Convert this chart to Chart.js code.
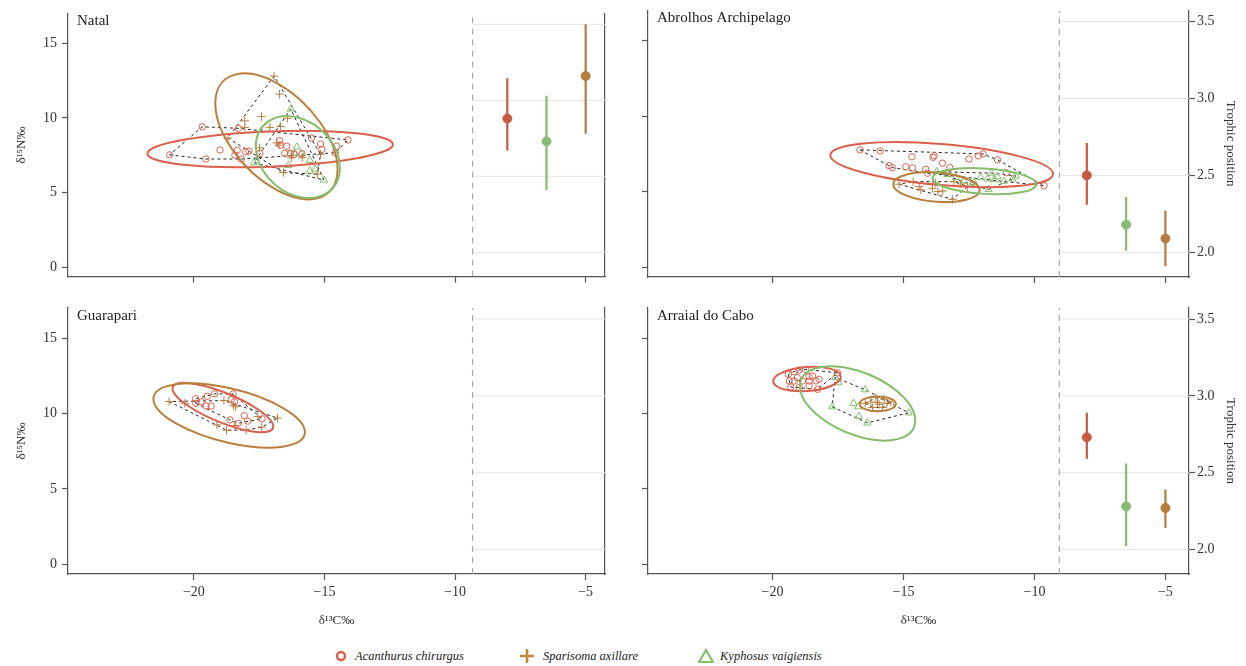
<!DOCTYPE html>
<html>
<head>
<meta charset="utf-8">
<script src="https://cdn.jsdelivr.net/npm/chart.js@4.4.1/dist/chart.umd.min.js"></script>
<style>
  body { margin: 0; background: #fff; }
  #wrap { position: relative; width: 1246px; height: 666px; overflow: hidden; font-family: "Liberation Serif", "Times New Roman", serif; }
  .panel { position: absolute; }
  .leg { position: absolute; top: 647px; height: 18px; font-style: italic; font-size: 12.5px; color: #222; line-height: 18px; }
  .mk { position: absolute; top: 648px; }
</style>
</head>
<body>
<div id="wrap">
  <div class="panel" style="left:0;top:0"><canvas id="c1" width="620" height="290"></canvas></div>
  <div class="panel" style="left:620px;top:0"><canvas id="c2" width="626" height="290"></canvas></div>
  <div class="panel" style="left:0;top:290px"><canvas id="c3" width="620" height="345"></canvas></div>
  <div class="panel" style="left:620px;top:290px"><canvas id="c4" width="626" height="345"></canvas></div>

  <svg class="mk" style="left:335px" width="12" height="16"><circle cx="6" cy="8" r="4" fill="none" stroke="#d9614c" stroke-width="2.4"/></svg>
  <div class="leg" style="left:355px">Acanthurus chirurgus</div>
  <svg class="mk" style="left:520px" width="14" height="16"><path d="M7 1 V15 M0 8 H14" stroke="#c08540" stroke-width="2.6"/></svg>
  <div class="leg" style="left:543px">Sparisoma axillare</div>
  <svg class="mk" style="left:698px" width="16" height="16"><path d="M8 2 L15 14 L1 14 Z" fill="none" stroke="#86c06c" stroke-width="2.2"/></svg>
  <div class="leg" style="left:720px">Kyphosus vaigiensis</div>
</div>

<script>
// Isotopic niches (d13C vs d15N) and trophic position per site

const species = ['Acanthurus chirurgus', 'Sparisoma axillare', 'Kyphosus vaigiensis'];
const sites = ['Natal', 'Abrolhos Archipelago', 'Guarapari', 'Arraial do Cabo'];

const xTicks = [-20, -15, -10, -5];
const yTicks = [0, 5, 10, 15];
const tpTicks = [2.0, 2.5, 3.0, 3.5];

// x position of the trophic position bars (aca, spa, kyp)
const tpX = [-8, -5, -6.5];
// vertical dashed divider per panel
const dividerX = [-9.33, -9.05, -9.33, -9.05];

// ---- Natal ----
const natalAca = [[-20.93,7.52],[-19.68,9.40],[-19.54,7.24],[-19.0,7.85],[-18.43,7.50],[-18.34,7.83],[-18.3,9.3],
  [-18.18,7.24],[-18.02,7.72],[-17.89,7.77],[-17.47,7.62],[-16.72,8.48],[-16.68,8.17],[-16.45,8.10],[-16.53,7.62],
  [-16.30,7.62],[-16.17,7.55],[-15.86,7.59],[-15.50,8.65],[-15.15,8.25],[-15.10,7.88],[-14.53,8.10],[-14.58,7.66],[-14.10,8.52]];
const natalSpa = [[-16.93,12.80],[-16.72,11.59],[-18.05,9.80],[-18.05,9.36],[-17.41,10.09],[-17.09,9.36],[-16.68,9.42],
  [-16.42,9.97],[-18.70,8.65],[-17.49,7.99],[-16.83,8.32],[-16.74,8.17],[-16.57,6.33],[-16.27,7.32],[-15.85,7.32],
  [-15.15,7.55],[-15.27,6.23]];
const natalKyp = [[-16.29,10.60],[-16.06,8.05],[-16.13,7.62],[-15.89,7.59],[-16.32,7.59],[-17.70,6.99],[-15.56,7.15],
  [-16.38,6.82],[-15.56,6.44],[-15.35,6.56],[-15.02,5.83]];
// SEA ellipses: centre x, centre y, semi-axis vector u, conjugate vector v (data units)
const natalEll = [[-17.08,7.91,4.70,0.31,0,1.18],[-16.84,8.76,2.34,-2.21,0,3.59],[-16.02,7.37,1.61,-0.71,0,2.65]];
// trophic position: mean, low, high
const natalTP = [[2.88,2.67,3.145],[3.16,2.78,3.50],[2.73,2.41,3.03]];

// ---- Abrolhos ----
const abrAca = [[-16.66,7.77],[-15.89,7.70],[-15.55,6.73],[-15.42,6.60],[-14.91,6.66],[-14.68,7.32],[-14.65,6.58],
  [-14.15,6.49],[-14.08,6.23],[-13.87,7.28],[-13.83,7.39],[-13.51,6.89],[-13.23,6.60],[-12.50,7.17],[-12.14,7.37],
  [-11.96,7.50],[-11.41,7.11],[-11.07,6.26],[-9.63,5.40]];
const abrSpa = [[-15.17,5.50],[-14.63,5.67],[-14.40,5.34],[-14.34,5.12],[-13.89,5.23],[-13.68,5.01],[-13.50,5.05],
  [-13.13,4.50],[-13.07,5.67],[-12.81,5.52],[-12.56,5.34],[-13.77,5.58]];
const abrKyp = [[-13.73,6.33],[-13.32,6.15],[-13.0,5.95],[-12.69,5.74],[-12.31,5.62],[-12.05,5.95],[-11.79,5.85],
  [-11.64,6.23],[-11.54,5.80],[-11.41,6.00],[-11.16,5.70],[-10.84,5.85],[-10.71,6.05],[-11.75,5.15],[-12.4,5.45]];
const abrEll = [[-13.54,6.80,4.25,-0.62,0,1.36],[-13.74,5.31,1.65,-0.19,0,0.97],[-11.91,5.70,1.98,-0.20,0,0.84]];
const abrTP = [[2.50,2.31,2.71],[2.09,1.91,2.27],[2.18,2.01,2.36]];

// ---- Guarapari ----
const guaAca = [[-19.93,10.98],[-19.93,10.68],[-19.72,10.78],[-19.49,11.14],[-19.21,11.31],[-19.53,10.50],[-19.34,10.50],
  [-18.57,10.94],[-18.45,10.78],[-18.5,11.3],[-18.07,9.86],[-18.62,9.58],[-18.30,9.36],[-17.94,9.50],[-17.39,9.65]];
const guaSpa = [[-20.95,10.80],[-20.35,10.68],[-18.85,10.86],[-18.48,10.55],[-18.40,10.45],[-19.12,9.25],[-18.75,8.90],
  [-18.43,9.21],[-18.00,8.90],[-17.55,9.80],[-17.40,9.10],[-16.80,9.70]];
const guaKyp = [];
const guaEll = [[-18.89,10.40,1.93,-1.26,0,1.05],[-18.65,9.87,2.90,-1.10,0,1.82],null];
const guaTP = [null, null, null];

// ---- Arraial do Cabo ----
const arrAca = [[-19.39,12.60],[-19.17,12.78],[-18.98,12.89],[-18.73,12.93],[-18.60,12.45],[-18.47,12.49],[-19.05,12.38],
  [-19.17,12.16],[-19.36,12.16],[-18.85,12.16],[-18.60,12.16],[-18.34,12.16],[-18.22,12.27],[-19.30,11.76],[-18.98,11.72],
  [-18.60,11.83],[-18.28,11.61],[-17.52,12.70]];
const arrSpa = [[-16.46,10.68],[-16.24,10.77],[-16.05,11.06],[-15.93,10.62],[-15.74,10.95],[-15.63,10.68],[-15.48,10.77],
  [-15.80,10.40],[-16.18,10.40],[-15.99,10.73]];
const arrKyp = [[-17.61,12.40],[-17.48,12.05],[-17.72,10.45],[-16.46,11.58],[-16.91,10.68],[-16.72,10.45],[-16.70,9.82],
  [-16.38,9.38],[-14.80,10.05]];
const arrEll = [[-18.68,12.29,1.29,0.15,0,0.80],[-15.98,10.64,0.69,0,0,0.49],[-16.75,10.67,2.20,-1.14,0,2.18]];
const arrTP = [[2.73,2.59,2.89],[2.27,2.14,2.39],[2.28,2.02,2.56]];

// styles
const ptColor = ['#d9614c', '#b97f3c', '#85bd6b'];
const tpColor = ['#c65a43', '#b57c40', '#8abb74'];
const ptStyle = ['circle', 'cross', 'triangle'];
const ptRadius = [3.2, 4.2, 4.2];
const axisColor = '#555';

Chart.defaults.font.family = '"Liberation Serif", "Times New Roman", serif';
Chart.defaults.color = '#333';

function convexHull(points) {
  if (points.length < 3) return [];
  const p = points.slice().sort((a, b) => a[0] - b[0] || a[1] - b[1]);
  const cross = (o, a, b) => (a[0] - o[0]) * (b[1] - o[1]) - (a[1] - o[1]) * (b[0] - o[0]);
  const lower = [], upper = [];
  for (const pt of p) {
    while (lower.length >= 2 && cross(lower[lower.length - 2], lower[lower.length - 1], pt) <= 0) lower.pop();
    lower.push(pt);
  }
  for (let i = p.length - 1; i >= 0; i--) {
    const pt = p[i];
    while (upper.length >= 2 && cross(upper[upper.length - 2], upper[upper.length - 1], pt) <= 0) upper.pop();
    upper.push(pt);
  }
  upper.pop(); lower.pop();
  const h = lower.concat(upper);
  h.push(h[0]);
  return h;
}

const toXY = arr => arr.map(p => ({ x: p[0], y: p[1] }));
const minus = v => (v < 0 ? '\u2212' : '') + Math.abs(v);

function makePanel(id, idx, pts, ells, tps, leftCol, bottomRow) {
  const xMin = leftCol ? -24.82 : -24.75;
  const xMax = leftCol ? -4.26 : -4.10;
  const yMin = -0.64, yMax = 17.0;
  const tpMin = 1.84, tpMax = 3.572;
  const div = dividerX[idx];
  const datasets = [];

  // light grid on the trophic position side
  tpTicks.forEach(v => datasets.push({
    data: [{ x: div, y: v }, { x: xMax, y: v }], yAxisID: 'tp', showLine: true,
    borderColor: '#e6e6e6', borderWidth: 1, pointRadius: 0, order: 9
  }));
  // dashed divider
  datasets.push({
    data: [{ x: div, y: yMin }, { x: div, y: yMax }], yAxisID: 'y', showLine: true,
    borderColor: '#a9a9a9', borderWidth: 1.2, borderDash: [6, 5], pointRadius: 0, order: 8
  });
  // convex hulls
  pts.forEach(s => {
    const h = convexHull(s);
    if (!h.length) return;
    datasets.push({
      data: toXY(h), yAxisID: 'y', showLine: true, borderColor: '#222', borderWidth: 1,
      borderDash: [3, 3], pointRadius: 0, order: 4
    });
  });
  // scatter points
  pts.forEach((s, i) => {
    if (!s.length) return;
    datasets.push({
      data: toXY(s), yAxisID: 'y', showLine: false, pointStyle: ptStyle[i], pointRadius: ptRadius[i],
      pointBorderColor: ptColor[i], pointBackgroundColor: 'rgba(0,0,0,0)', pointBorderWidth: 1, order: 2
    });
  });
  // trophic position bars
  tps.forEach((t, i) => {
    if (!t) return;
    datasets.push({
      data: [{ x: tpX[i], y: t[1] }, { x: tpX[i], y: t[2] }], yAxisID: 'tp', showLine: true,
      borderColor: tpColor[i], borderWidth: 2.2, pointRadius: 0, order: 3
    });
    datasets.push({
      data: [{ x: tpX[i], y: t[0] }], yAxisID: 'tp', showLine: false, pointRadius: 4.5,
      pointBackgroundColor: tpColor[i], pointBorderColor: tpColor[i], order: 1
    });
  });

  const seaPlugin = {
    id: 'sea' + idx,
    afterDatasetsDraw(chart) {
      const { ctx, scales: { x, y } } = chart;
      ells.forEach((e, i) => {
        if (!e) return;
        const [cx, cy, ux, uy, vx, vy] = e;
        const px = x.getPixelForValue(cx), py = y.getPixelForValue(cy);
        const sx = x.getPixelForValue(cx + 1) - px;
        const sy = y.getPixelForValue(cy + 1) - py;
        ctx.save();
        ctx.beginPath();
        ctx.transform(ux * sx, uy * sy, vx * sx, vy * sy, px, py);
        ctx.arc(0, 0, 1, 0, Math.PI * 2);
        ctx.restore();
        ctx.save();
        ctx.strokeStyle = ptColor[i];
        ctx.lineWidth = 2;
        ctx.stroke();
        ctx.restore();
      });
      // site name
      const a = chart.chartArea;
      ctx.save();
      ctx.font = '15px "Liberation Serif", serif';
      ctx.fillStyle = '#222';
      ctx.textBaseline = 'alphabetic';
      ctx.fillText(sites[idx], a.left + 9, a.top + 12);
      ctx.restore();
    }
  };

  const tickGrid = { display: true, drawOnChartArea: false, drawTicks: true, tickLength: 6, tickColor: axisColor, tickWidth: 1.2 };
  const border = { display: true, color: axisColor, width: 1.2 };

  return new Chart(document.getElementById(id), {
    type: 'scatter',
    data: { datasets },
    options: {
      responsive: false,
      animation: false,
      events: [],
      layout: { padding: { top: bottomRow ? 18 : 10, left: 0, right: 0, bottom: 0 } },
      plugins: { legend: { display: false }, tooltip: { enabled: false } },
      scales: {
        x: {
          type: 'linear', position: 'bottom', min: xMin, max: xMax,
          afterFit: s => { s.height = bottomRow ? 61 : 13; },
          afterBuildTicks: s => { s.ticks = xTicks.map(v => ({ value: v })); },
          grid: tickGrid, border,
          ticks: { display: bottomRow, padding: 4, font: { size: 14 }, callback: v => minus(v) },
          title: { display: bottomRow, text: 'δ¹³C‰', font: { size: 13 }, padding: { top: 0, bottom: 7 } }
        },
        y: {
          type: 'linear', position: 'left', min: yMin, max: yMax,
          afterFit: s => { s.width = leftCol ? 68 : 28; },
          afterBuildTicks: s => { s.ticks = yTicks.map(v => ({ value: v })); },
          grid: tickGrid, border,
          ticks: { display: leftCol, padding: 5, font: { size: 14 }, callback: v => String(v) },
          title: { display: leftCol, text: 'δ¹⁵N‰', font: { size: 13 }, padding: { top: 14, bottom: 0 } }
        },
        tp: {
          type: 'linear', position: 'right', min: tpMin, max: tpMax,
          afterFit: s => { s.width = leftCol ? 15 : 57; },
          afterBuildTicks: s => { s.ticks = tpTicks.map(v => ({ value: v })); },
          grid: Object.assign({}, tickGrid, { display: !leftCol }), border,
          ticks: { display: !leftCol, padding: 2, font: { size: 14 }, callback: v => v.toFixed(1) },
          title: { display: !leftCol, text: 'Trophic position', font: { size: 13 }, padding: { top: 8, bottom: 0 } }
        }
      }
    },
    plugins: [seaPlugin]
  });
}

makePanel('c1', 0, [natalAca, natalSpa, natalKyp], natalEll, natalTP, true, false);
makePanel('c2', 1, [abrAca, abrSpa, abrKyp], abrEll, abrTP, false, false);
makePanel('c3', 2, [guaAca, guaSpa, guaKyp], guaEll, guaTP, true, true);
makePanel('c4', 3, [arrAca, arrSpa, arrKyp], arrEll, arrTP, false, true);
</script>
</body>
</html>
